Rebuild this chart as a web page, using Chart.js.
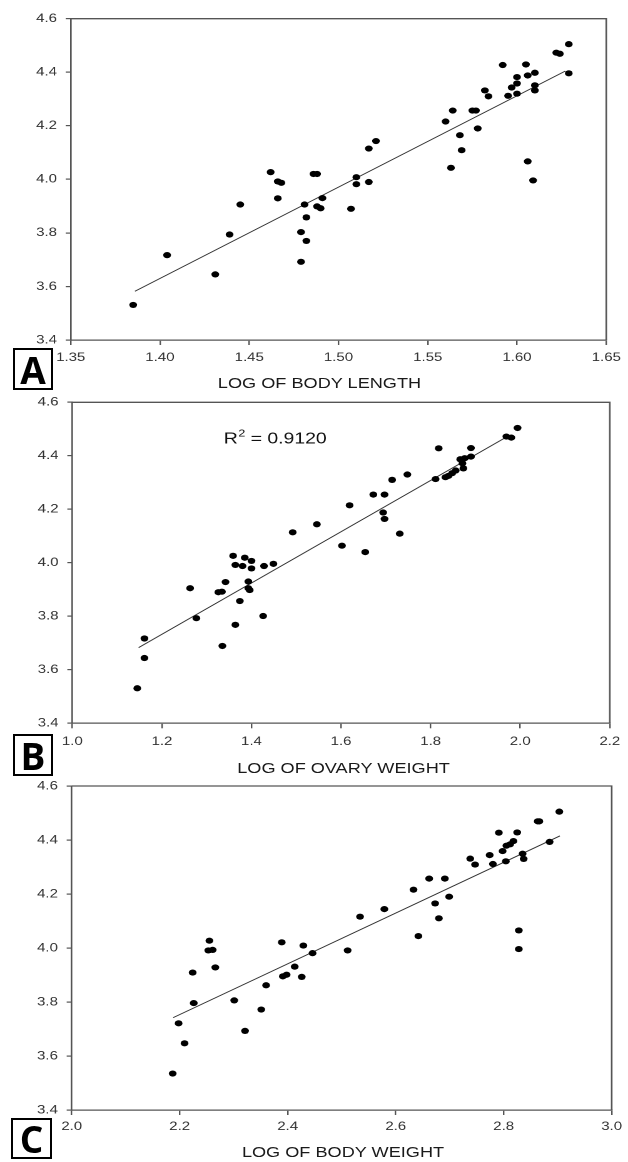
<!DOCTYPE html>
<html><head><meta charset="utf-8">
<title>Log relationships</title>
<script src="https://cdn.jsdelivr.net/npm/chart.js@4.4.1/dist/chart.umd.min.js"></script>
<style>
html,body{margin:0;padding:0;background:#fff;}
body{width:628px;height:1162px;position:relative;overflow:hidden;}
#wrap{position:absolute;left:0;top:0;width:502px;height:1162px;transform:scaleX(1.251);transform-origin:0 0;}
#wrap canvas{position:absolute;left:0;}
.atitle{position:absolute;transform:translate(-50%,-50%);white-space:nowrap;font:14.5px "Liberation Sans",Arial,sans-serif;color:#1a1a1a;}
.lab{position:absolute;box-sizing:border-box;border:2.5px solid #000;background:#fff;display:flex;align-items:center;justify-content:center;font:700 37px "Open Sans",sans-serif;color:#000;line-height:1;z-index:5;}
</style></head>
<body>
<div id="wrap">
  <canvas id="cA" width="502" height="400" style="top:0px;width:502px;height:400px"></canvas>
  <canvas id="cB" width="502" height="400" style="top:385px;width:502px;height:400px"></canvas>
  <canvas id="cC" width="502" height="392" style="top:770px;width:502px;height:392px"></canvas>
  <div class="atitle" style="left:255.4px;top:383px">LOG OF BODY LENGTH</div>
  <div class="atitle" style="left:274.6px;top:768px">LOG OF OVARY WEIGHT</div>
  <div class="atitle" style="left:274.2px;top:1152px">LOG OF BODY WEIGHT</div>
</div>
<div class="lab" style="left:13px;top:348px;width:40px;height:42px">A</div>
<div class="lab" style="left:13px;top:734px;width:40px;height:42px">B</div>
<div class="lab" style="left:11px;top:1118px;width:41px;height:41px">C</div>
<script>
// ---- tick labels ----
const yTicks  = [3.4, 3.6, 3.8, 4.0, 4.2, 4.4, 4.6];
const xTicksA = [1.35, 1.40, 1.45, 1.50, 1.55, 1.60, 1.65];
const xTicksB = [1.0, 1.2, 1.4, 1.6, 1.8, 2.0, 2.2];
const xTicksC = [2.0, 2.2, 2.4, 2.6, 2.8, 3.0];

// ---- panel A: log of body length ----
const xA = [1.385,1.404,1.431,1.439,1.445,1.462,1.466,1.468,1.466,1.479,1.479,1.482,1.482,1.481,1.486,1.488,1.488,1.490,1.491,1.507,1.510,1.510,1.517,1.517,1.521,1.560,1.564,1.563,1.568,1.569,1.575,1.577,1.578,1.582,1.584,1.592,1.595,1.597,1.600,1.600,1.600,1.605,1.606,1.606,1.610,1.610,1.610,1.609,1.622,1.624,1.629,1.629];
const yA = [3.531,3.717,3.645,3.794,3.906,4.027,3.992,3.987,3.929,3.803,3.692,3.770,3.858,3.906,4.020,4.020,3.899,3.892,3.930,3.890,4.008,3.982,3.990,4.115,4.143,4.216,4.257,4.043,4.165,4.109,4.257,4.257,4.190,4.332,4.310,4.427,4.312,4.343,4.382,4.358,4.320,4.429,4.388,4.067,4.398,4.351,4.332,3.996,4.473,4.469,4.505,4.396];
const fitAx = [1.386, 1.627];
const fitAy = [3.582, 4.404];

// ---- panel B: log of ovary weight ----
const xB = [1.145,1.161,1.161,1.263,1.277,1.326,1.342,1.334,1.335,1.359,1.364,1.364,1.374,1.385,1.380,1.400,1.400,1.393,1.393,1.396,1.426,1.428,1.449,1.492,1.546,1.602,1.619,1.654,1.672,1.694,1.697,1.697,1.714,1.731,1.748,1.811,1.818,1.833,1.840,1.848,1.856,1.866,1.873,1.876,1.871,1.890,1.890,1.969,1.980,1.994];
const yB = [3.531,3.717,3.644,3.905,3.793,3.890,3.928,3.892,3.689,4.026,3.992,3.768,3.857,4.019,3.988,4.007,3.979,3.930,3.905,3.898,3.801,3.988,3.996,4.114,4.144,4.064,4.215,4.040,4.255,4.188,4.164,4.255,4.310,4.109,4.330,4.313,4.428,4.320,4.325,4.335,4.345,4.387,4.353,4.391,4.372,4.429,4.397,4.472,4.468,4.504];
const fitBx = [1.148, 1.964];
const fitBy = [3.683, 4.465];
const r2Text = "0.9120";
const r2At = [1.338, 4.467];

// ---- panel C: log of body weight ----
const xC = [2.187,2.198,2.209,2.224,2.226,2.255,2.253,2.261,2.266,2.301,2.321,2.351,2.360,2.389,2.391,2.398,2.413,2.426,2.429,2.446,2.511,2.534,2.579,2.633,2.642,2.662,2.673,2.680,2.691,2.699,2.738,2.747,2.774,2.780,2.791,2.798,2.804,2.805,2.812,2.818,2.825,2.828,2.828,2.835,2.837,2.863,2.866,2.885,2.903];
const yC = [3.535,3.721,3.647,3.909,3.796,4.027,3.991,3.993,3.928,3.806,3.693,3.772,3.862,4.021,3.895,3.901,3.931,3.893,4.009,3.981,3.991,4.116,4.144,4.216,4.044,4.257,4.165,4.110,4.257,4.190,4.331,4.309,4.344,4.311,4.427,4.359,4.321,4.379,4.384,4.396,4.428,4.065,3.996,4.349,4.330,4.469,4.469,4.393,4.505];
const fitCx = [2.188, 2.904];
const fitCy = [3.742, 4.415];

const FONT = '"Liberation Sans", Arial, sans-serif';
const AXIS = '#555';

const framePlugin = {
  id: 'frame',
  beforeDatasetsDraw(chart) {
    const {ctx, chartArea: a} = chart;
    ctx.save();
    ctx.strokeStyle = AXIS;
    ctx.lineWidth = 1.3;
    ctx.beginPath();
    ctx.moveTo(a.left, a.top);
    ctx.lineTo(a.right, a.top);
    ctx.lineTo(a.right, a.bottom);
    ctx.stroke();
    ctx.restore();
  }
};

const r2Plugin = {
  id: 'r2',
  afterDatasetsDraw(chart) {
    const {ctx, scales: {x, y}} = chart;
    const px = x.getPixelForValue(r2At[0]);
    const py = y.getPixelForValue(r2At[1]);
    ctx.save();
    ctx.fillStyle = '#111';
    ctx.textBaseline = 'alphabetic';
    ctx.textAlign = 'left';
    ctx.font = '15.5px ' + FONT;
    ctx.fillText('R', px, py + 5.5);
    let w = ctx.measureText('R').width;
    ctx.font = '10px ' + FONT;
    ctx.fillText('2', px + w + 0.5, py - 1.5);
    w += ctx.measureText('2').width + 0.5;
    ctx.font = '15.5px ' + FONT;
    ctx.fillText(' = ' + r2Text, px + w, py + 5.5);
    ctx.restore();
  }
};

function makeChart(id, xs, ys, fx, fy, xTicks, xDec, g, extra) {
  const pts = xs.map((x, i) => ({x: x, y: ys[i]}));
  const fit = fx.map((x, i) => ({x: x, y: fy[i]}));
  return new Chart(document.getElementById(id), {
    type: 'scatter',
    data: {
      datasets: [
        {type: 'scatter', data: pts, backgroundColor: '#000', borderColor: '#000',
         pointRadius: 3.1, borderWidth: 0, order: 1},
        {type: 'line', data: fit, borderColor: '#333', borderWidth: 0.9,
         pointRadius: 0, fill: false, tension: 0, order: 2}
      ]
    },
    options: {
      responsive: false,
      animation: false,
      devicePixelRatio: 2,
      events: [],
      layout: {padding: {top: g.pt, right: g.pr, left: 0, bottom: 0}},
      plugins: {legend: {display: false}, tooltip: {enabled: false}},
      scales: {
        x: {
          type: 'linear',
          min: xTicks[0], max: xTicks[xTicks.length - 1],
          afterBuildTicks: s => { s.ticks = xTicks.map(v => ({value: v})); },
          afterFit: s => { s.height = g.xh; },
          grid: {drawOnChartArea: false, drawTicks: true, tickLength: 5, color: AXIS, lineWidth: 1.2},
          border: {display: true, color: AXIS, width: 1.3},
          ticks: {padding: g.xpad, autoSkip: false, maxRotation: 0,
                  font: {family: FONT, size: 12}, color: '#333',
                  callback: v => Number(v).toFixed(xDec)}
        },
        y: {
          type: 'linear',
          min: yTicks[0], max: yTicks[yTicks.length - 1],
          afterBuildTicks: s => { s.ticks = yTicks.map(v => ({value: v})); },
          afterFit: s => { s.width = g.yw; },
          grid: {drawOnChartArea: false, drawTicks: true, tickLength: 4, color: AXIS, lineWidth: 1.2},
          border: {display: true, color: AXIS, width: 1.3},
          ticks: {padding: 7, autoSkip: false,
                  font: {family: FONT, size: 12}, color: '#333',
                  callback: v => Number(v).toFixed(1)}
        }
      }
    },
    plugins: [framePlugin].concat(extra || [])
  });
}

makeChart('cA', xA, yA, fitAx, fitAy, xTicksA, 2, {pt: 18.7, pr: 12.2, yw: 56.5, xh: 60, xpad: 5.7});
makeChart('cB', xB, yB, fitBx, fitBy, xTicksB, 1, {pt: 17.3, pr: 10.4, yw: 57.8, xh: 61.7, xpad: 6.2}, [r2Plugin]);
makeChart('cC', xC, yC, fitCx, fitCy, xTicksC, 1, {pt: 16, pr: 10.2, yw: 57.3, xh: 52, xpad: 4.7});
</script>
</body></html>
